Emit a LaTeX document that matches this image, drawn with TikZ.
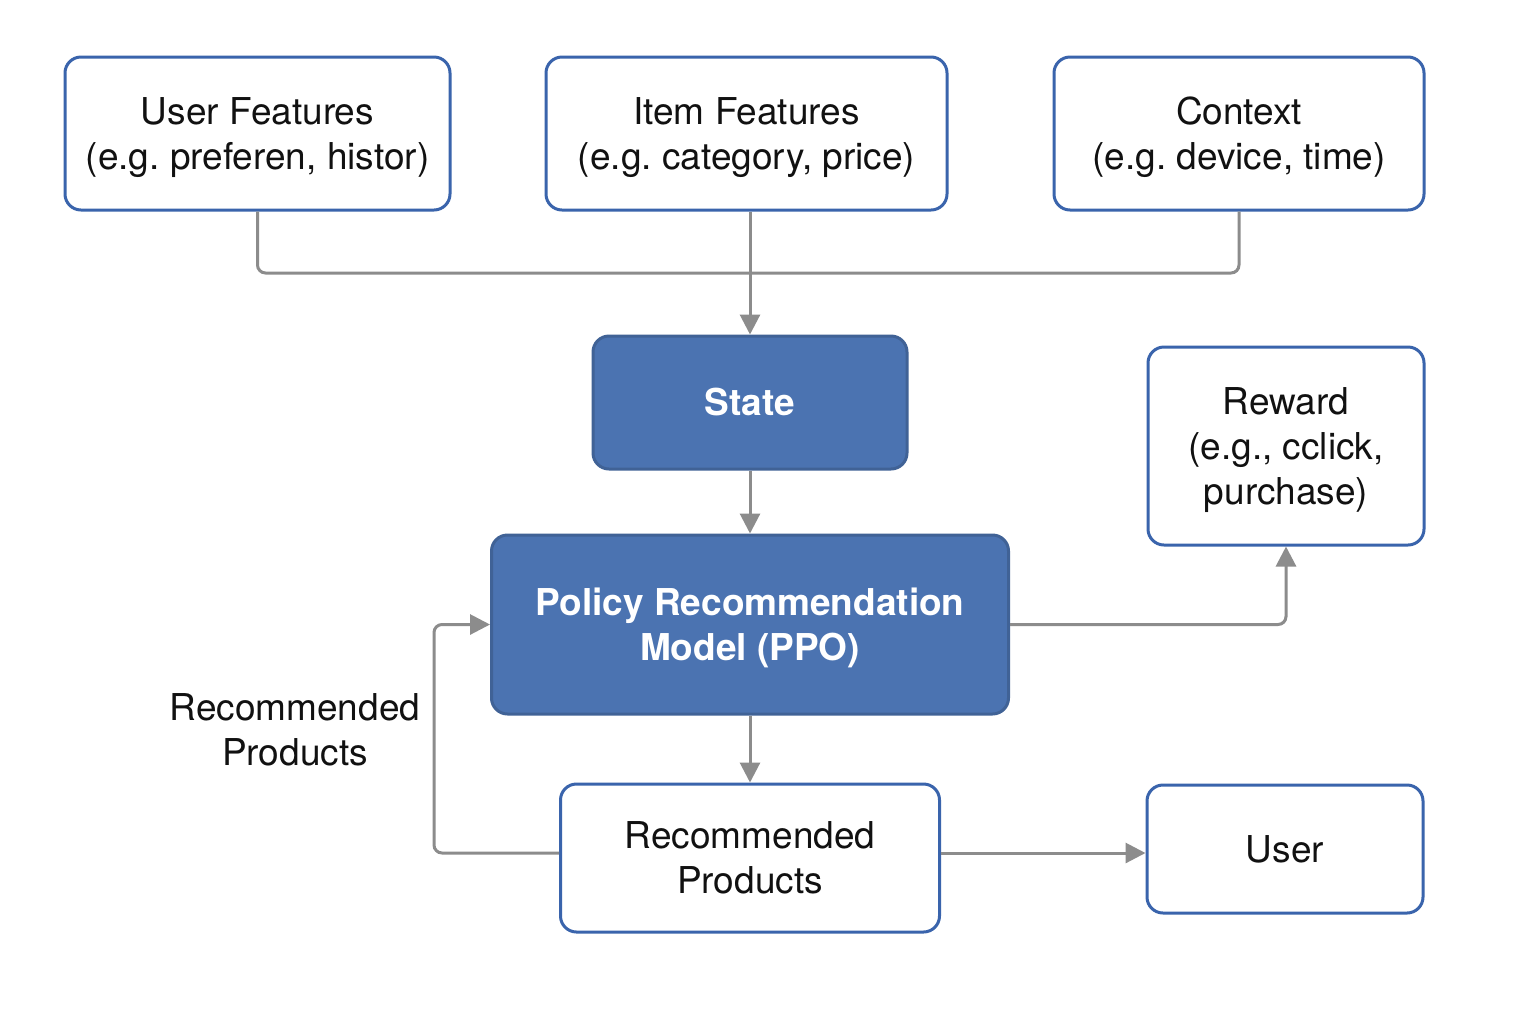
\documentclass[tikz,border=0pt]{standalone}
\usepackage{fontspec}
\setmainfont{TeX Gyre Heros}
\usetikzlibrary{arrows.meta}
\definecolor{boxblue}{HTML}{3A64AC}
\definecolor{fillblue}{HTML}{4B73B1}
\definecolor{conngray}{HTML}{8C8C8C}
\definecolor{txt}{HTML}{111111}
\newcommand\lowtxt[1]{\raisebox{-2pt}[\height][\depth]{\begin{tabular}{@{}c@{}}#1\end{tabular}}}
\begin{document}
\frenchspacing
\begin{tikzpicture}[x=0.5pt,y=-0.5pt,
  box/.style={draw=boxblue, line width=1.5pt, rounded corners=8pt, fill=white,
    align=center, text=txt, inner sep=0pt, font=\fontsize{18.5}{22.5}\selectfont},
  filled/.style={box, fill=fillblue, draw=fillblue!85!black, text=white,
    font=\fontsize{18.5}{22.5}\selectfont\bfseries},
  conn/.style={draw=conngray, line width=1.5pt, rounded corners=4pt},
  arrow/.style={conn, -{Triangle[length=10pt, width=10pt]}},
  lbl/.style={align=center, text=txt, font=\fontsize{18.5}{22.5}\selectfont}]
\useasboundingbox (0,0) rectangle (1536,1024);
\fill[white] (0,0) rectangle (1536,1024);

\node[box, minimum width=192.5pt, minimum height=76.5pt] (uf) at (257.5,133.5) {\lowtxt{User Features\\(e.g. preferen, histor)}};
\node[box, minimum width=200.5pt, minimum height=76.5pt] (if) at (746.5,133.5) {\lowtxt{Item Features\\(e.g. category, price)}};
\node[box, minimum width=185pt, minimum height=76.5pt] (ctx) at (1239,133.5) {\lowtxt{Context\\(e.g. device, time)}};
\node[filled, minimum width=157pt, minimum height=66.5pt] (state) at (750,402.5) {State};
\node[box, minimum width=138pt, minimum height=99pt] (reward) at (1286,446) {\lowtxt{Reward\\(e.g., cclick,\\purchase)}};
\node[filled, minimum width=258.5pt, minimum height=89.5pt] (policy) at (750,624.5) {\lowtxt{Policy Recommendation\\Model (PPO)}};
\node[box, minimum width=189.5pt, minimum height=74pt] (rp) at (750,858) {\lowtxt{Recommended\\Products}};
\node[box, minimum width=138pt, minimum height=64pt] (user) at (1285,849) {User};
\node[lbl] (rplabel) at (295,730) {Recommended\\Products};

\coordinate (jn) at (750,273);
\coordinate (lp) at (434,853);

\draw[conn] (uf.south) |- (jn) -| (ctx.south);
\draw[arrow] (state.north |- if.south) -- (state.north);
\draw[arrow] (state.south) -- (policy.north);
\draw[arrow] (policy.east) -| (reward.south);
\draw[arrow] (policy.south) -- (rp.north);
\draw[arrow] (rp.east |- lp) -- (user.west |- lp);
\draw[arrow] (rp.west |- lp) -- (lp) |- (policy.west);
\end{tikzpicture}
\end{document}
